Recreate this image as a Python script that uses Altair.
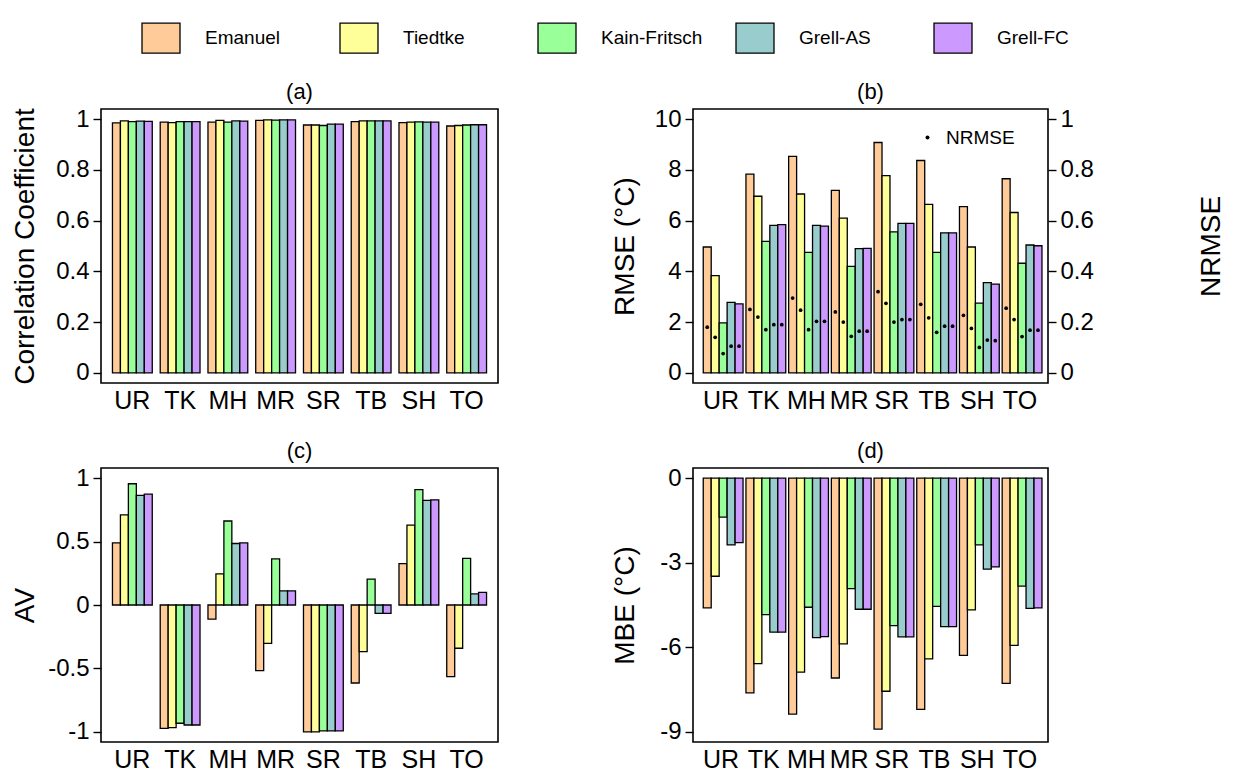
import altair as alt
import pandas as pd

SITES = ["UR", "TK", "MH", "MR", "SR", "TB", "SH", "TO"]
MODELS = ["Emanuel", "Tiedtke", "Kain-Fritsch", "Grell-AS", "Grell-FC"]
COLORS = ["#FFCC99", "#FFFF99", "#99FF99", "#99CCCC", "#CC99FF"]

# (a) correlation coefficient
CC_EMANUEL = [0.985, 0.988, 0.988, 0.995, 0.977, 0.990, 0.986, 0.973]
CC_TIEDTKE = [0.993, 0.986, 0.995, 0.997, 0.977, 0.993, 0.988, 0.975]
CC_KF = [0.990, 0.990, 0.988, 0.996, 0.975, 0.993, 0.989, 0.977]
CC_GAS = [0.992, 0.990, 0.993, 0.997, 0.980, 0.993, 0.988, 0.978]
CC_GFC = [0.991, 0.990, 0.992, 0.997, 0.980, 0.993, 0.988, 0.978]

# (b) RMSE (deg C) and NRMSE
RMSE_EMANUEL = [4.96, 7.83, 8.53, 7.19, 9.08, 8.37, 6.55, 7.65]
RMSE_TIEDTKE = [3.83, 6.96, 7.05, 6.10, 7.77, 6.64, 4.96, 6.32]
RMSE_KF = [1.97, 5.18, 4.75, 4.20, 5.56, 4.75, 2.75, 4.32]
RMSE_GAS = [2.78, 5.81, 5.81, 4.90, 5.89, 5.52, 3.56, 5.04]
RMSE_GFC = [2.72, 5.84, 5.78, 4.91, 5.89, 5.52, 3.50, 5.01]

NRMSE_EMANUEL = [0.180, 0.250, 0.295, 0.240, 0.320, 0.270, 0.227, 0.255]
NRMSE_TIEDTKE = [0.140, 0.220, 0.247, 0.200, 0.274, 0.217, 0.175, 0.210]
NRMSE_KF = [0.076, 0.170, 0.170, 0.144, 0.200, 0.160, 0.100, 0.143]
NRMSE_GAS = [0.105, 0.190, 0.203, 0.164, 0.210, 0.184, 0.129, 0.168]
NRMSE_GFC = [0.105, 0.190, 0.203, 0.164, 0.210, 0.184, 0.127, 0.168]

# (c) AV
AV_EMANUEL = [0.490, -0.972, -0.111, -0.517, -1.000, -0.615, 0.326, -0.565]
AV_TIEDTKE = [0.710, -0.967, 0.246, -0.302, -1.000, -0.368, 0.630, -0.341]
AV_KF = [0.956, -0.932, 0.662, 0.363, -0.992, 0.204, 0.909, 0.367]
AV_GAS = [0.864, -0.946, 0.485, 0.111, -0.992, -0.066, 0.824, 0.087]
AV_GFC = [0.874, -0.946, 0.490, 0.111, -0.992, -0.066, 0.829, 0.100]

# (d) MBE (deg C)
MBE_EMANUEL = [-4.60, -7.62, -8.37, -7.09, -8.90, -8.20, -6.29, -7.28]
MBE_TIEDTKE = [-3.48, -6.58, -6.88, -5.88, -7.56, -6.41, -4.67, -5.93]
MBE_KF = [-1.38, -4.84, -4.58, -3.92, -5.23, -4.55, -2.37, -3.83]
MBE_GAS = [-2.37, -5.46, -5.66, -4.65, -5.63, -5.27, -3.23, -4.62]
MBE_GFC = [-2.29, -5.46, -5.62, -4.65, -5.63, -5.27, -3.15, -4.60]

CC = [CC_EMANUEL, CC_TIEDTKE, CC_KF, CC_GAS, CC_GFC]
RMSE = [RMSE_EMANUEL, RMSE_TIEDTKE, RMSE_KF, RMSE_GAS, RMSE_GFC]
NRMSE = [NRMSE_EMANUEL, NRMSE_TIEDTKE, NRMSE_KF, NRMSE_GAS, NRMSE_GFC]
AV = [AV_EMANUEL, AV_TIEDTKE, AV_KF, AV_GAS, AV_GFC]
MBE = [MBE_EMANUEL, MBE_TIEDTKE, MBE_KF, MBE_GAS, MBE_GFC]

records = []
for j, m in enumerate(MODELS):
    for i, s in enumerate(SITES):
        records.append({
            "site": s, "model": m,
            "cc": CC[j][i], "rmse": RMSE[j][i], "nrmse": NRMSE[j][i],
            "av": AV[j][i], "mbe": MBE[j][i], "lab": "NRMSE",
        })
df = pd.DataFrame(records)

FONT = "Liberation Sans"

color_legend = alt.Legend(
    title=None, orient="none", legendX=40, legendY=-91,
    direction="horizontal", columns=5, gridAlign="all",
    symbolType="M-1,-0.79H1V0.79H-1Z", symbolSize=1444,
    symbolStrokeColor="black", symbolStrokeWidth=1.3, symbolOpacity=1,
    labelFontSize=19, labelOffset=24, columnPadding=30,
    labelColor="black", labelFont=FONT, padding=0,
)


def x_enc(po):
    return alt.X(
        "site:N", sort=SITES,
        scale=alt.Scale(paddingInner=1 / 6, paddingOuter=po),
        axis=alt.Axis(title=None, labelAngle=0, ticks=False, tickSize=0,
                      domain=False, labelFontSize=25, labelPadding=5,
                      labelColor="black", labelFont=FONT),
    )


XOFF = alt.XOffset("model:N", sort=MODELS,
                   scale=alt.Scale(paddingInner=0, paddingOuter=0))


def y_axis(values, title, orient="left", ext=55, pad=7, angle=None):
    kw = dict(
        values=values, title=title, orient=orient, grid=False, domain=False,
        ticks=True, tickSize=8, tickWidth=1.4, tickColor="black",
        labelFontSize=24, labelColor="black", labelPadding=4,
        labelExpr="toString(datum.value)", labelFont=FONT,
        titleFontSize=28, titleFontWeight="normal", titleColor="black",
        titleFont=FONT, titlePadding=pad, minExtent=ext, maxExtent=ext,
    )
    if angle is not None:
        kw["titleAngle"] = angle
    return alt.Axis(**kw)


def ptitle(t):
    return alt.TitleParams(text=t, fontSize=22, fontWeight="normal",
                           offset=3, anchor="middle", frame="group",
                           color="black", font=FONT)


def bars(field, domain, ticks, ytitle, ext, pad, po):
    return alt.Chart(df).mark_bar(stroke="black", strokeWidth=1.3, opacity=1).encode(
        x=x_enc(po),
        xOffset=XOFF,
        y=alt.Y(f"{field}:Q", stack=None,
                scale=alt.Scale(domain=domain, nice=False, zero=False),
                axis=y_axis(ticks, ytitle, ext=ext, pad=pad)),
        color=alt.Color("model:N", sort=MODELS,
                        scale=alt.Scale(domain=MODELS, range=COLORS),
                        legend=color_legend),
    )


W_L, W_R, H = 397, 355, 274

panel_a = bars("cc", [-0.04, 1.04], [0, 0.2, 0.4, 0.6, 0.8, 1],
               "Correlation Coefficient", 55, 7, 0.24).properties(
    width=W_L, height=H, title=ptitle("(a)"))

bars_b = bars("rmse", [-0.4, 10.4], [0, 2, 4, 6, 8, 10], "RMSE (°C)", 44, 10, 0.24)
points_b = alt.Chart(df).mark_point(filled=True, color="black", size=14,
                                    opacity=1).encode(
    x=x_enc(0.24),
    xOffset=XOFF,
    y=alt.Y("nrmse:Q", scale=alt.Scale(domain=[-0.04, 1.04], nice=False, zero=False),
            axis=y_axis([0, 0.2, 0.4, 0.6, 0.8, 1], "NRMSE", orient="right",
                        ext=65, pad=112, angle=270)),
    shape=alt.Shape("lab:N", scale=alt.Scale(domain=["NRMSE"], range=["circle"]),
                    legend=alt.Legend(title=None, orient="none", legendX=817,
                                      legendY=19, labelFontSize=19, labelOffset=9,
                                      symbolSize=16, symbolFillColor="black",
                                      symbolStrokeWidth=0, padding=0,
                                      labelColor="black", labelFont=FONT)),
)
panel_b = alt.layer(bars_b, points_b).resolve_scale(y="independent").properties(
    width=W_R, height=H, title=ptitle("(b)"))

panel_c = bars("av", [-1.08, 1.08], [-1, -0.5, 0, 0.5, 1], "AV", 55, 7, 0.24).properties(
    width=W_L, height=H, title=ptitle("(c)"))

panel_d = bars("mbe", [-9.36, 0.36], [-9, -6, -3, 0], "MBE (°C)", 44, 10, 0.24).properties(
    width=W_R, height=H, title=ptitle("(d)"))

row1 = alt.hconcat(panel_a, panel_b, spacing=111)
row2 = alt.hconcat(panel_c, panel_d, spacing=111)

chart = alt.vconcat(row1, row2, spacing=25).properties(
    padding={"left": 2, "top": 10, "right": 0, "bottom": 0},
    background="white",
).configure(font=FONT).configure_view(stroke="black", strokeWidth=1.6)

chart.save("out.html", embed_options={"renderer": "svg", "actions": False})
